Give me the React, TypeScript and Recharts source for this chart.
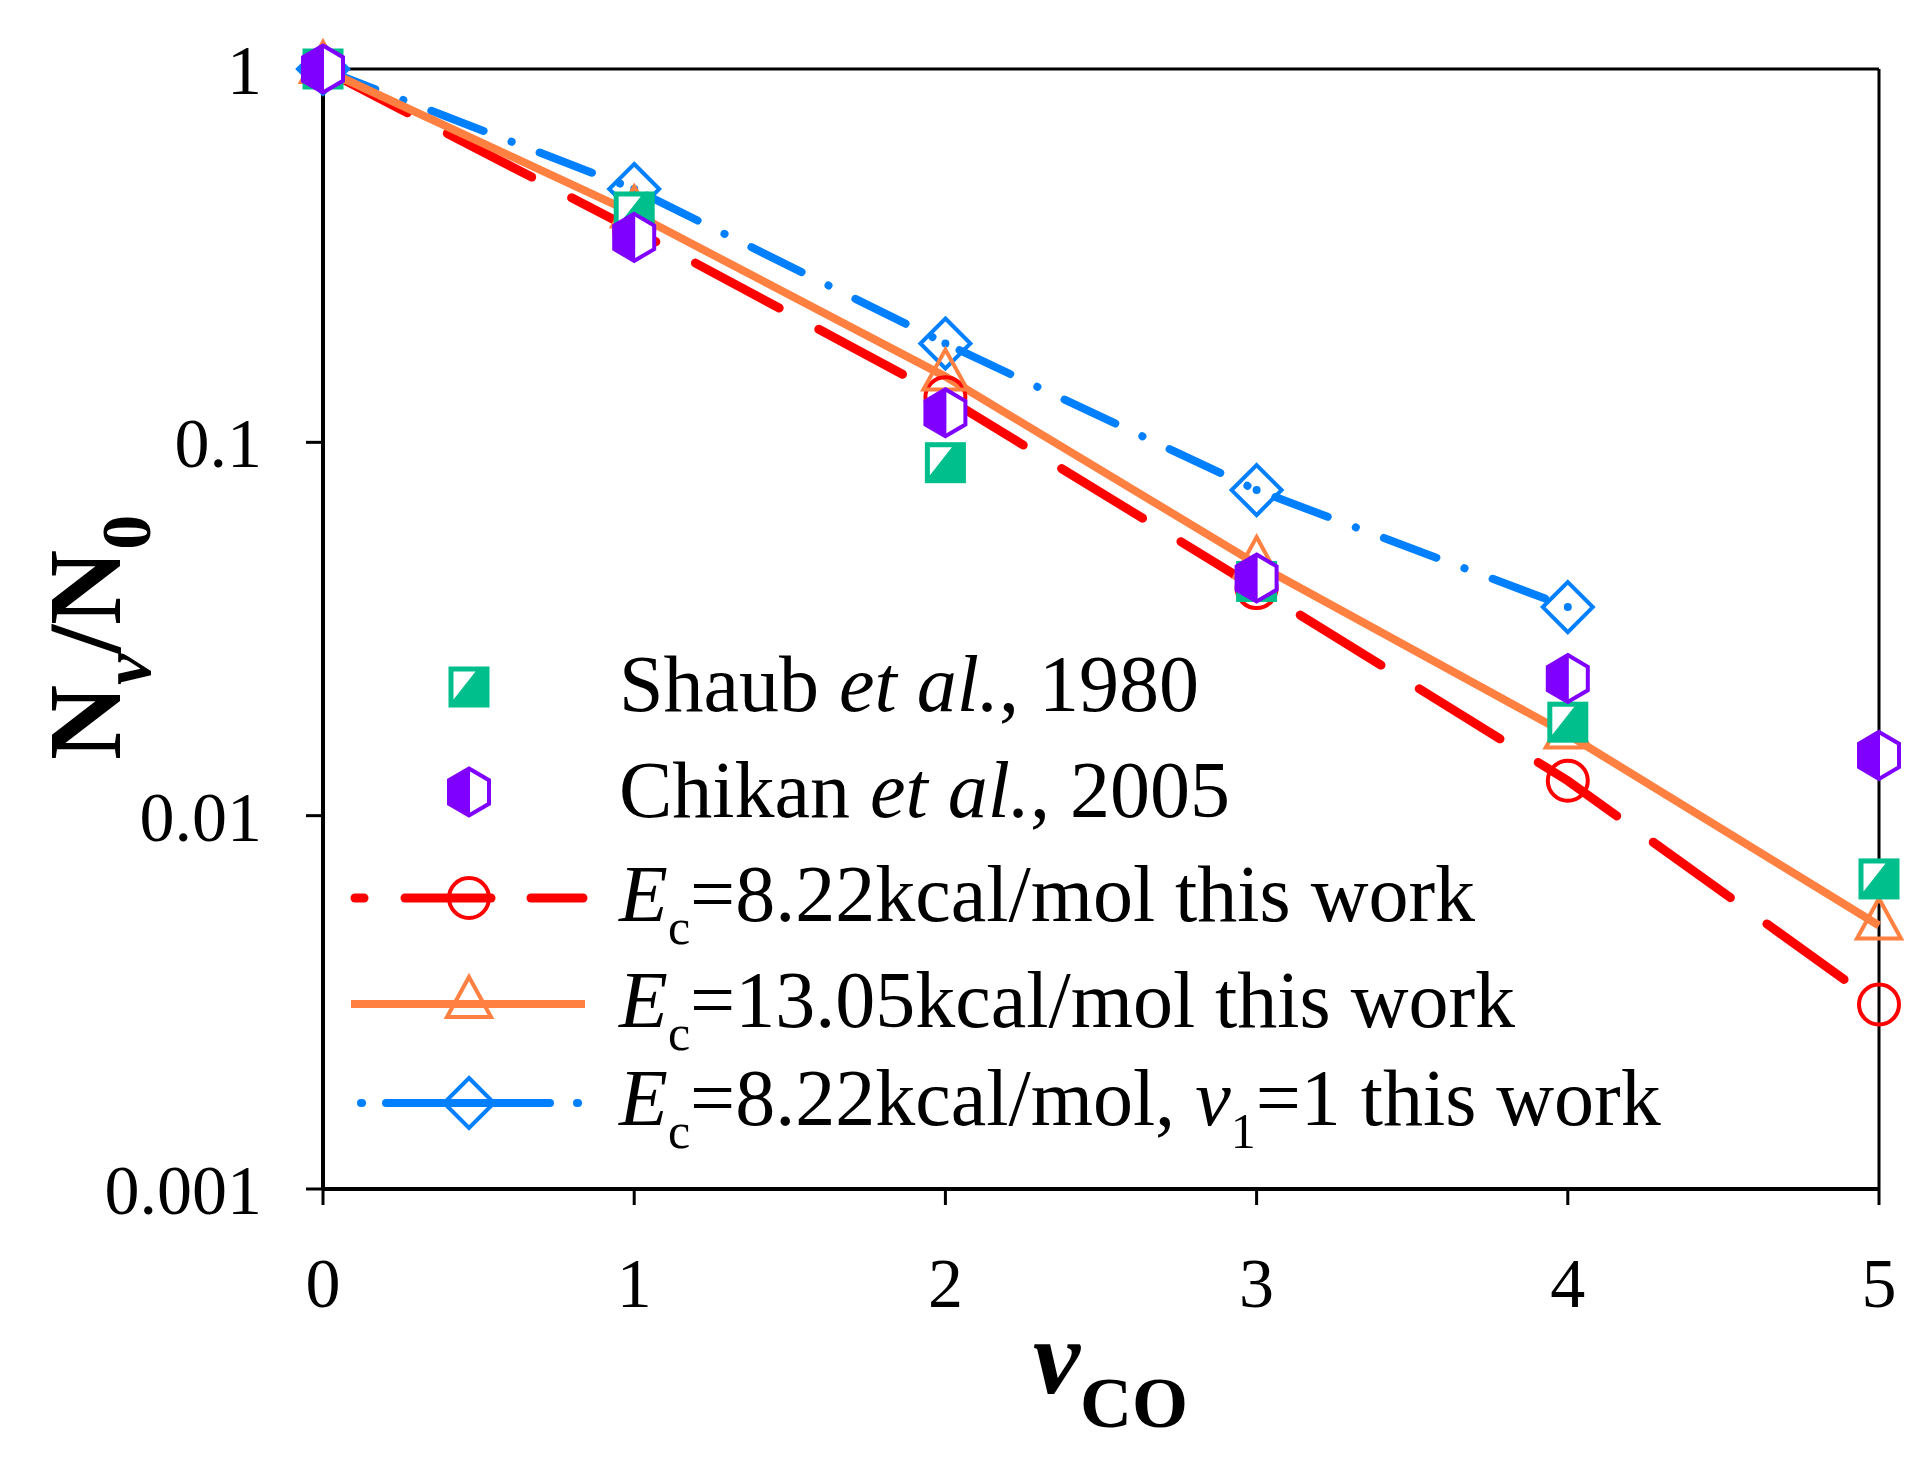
import React from "react";
import {
  ComposedChart,
  Line,
  XAxis,
  YAxis,
  Legend,
  ReferenceLine,
} from "recharts";

// values (N_v / N_0 against v_CO)
const vCO = [0, 1, 2, 3, 4, 5];
const shaub1980 = [1, 0.414, 0.0882, 0.0424, 0.0178, 0.00677];
const chikan2005 = [1, 0.354, 0.12, 0.0433, 0.0233, 0.0145];
const ec822 = [1, 0.37, 0.132, 0.0407, 0.0124, 0.00312];
const ec1305 = [1, 0.41, 0.15, 0.0472, 0.0165, 0.00508];
const vCOv1 = [0, 1, 2, 3, 4];
const ec822v1 = [1, 0.477, 0.184, 0.0745, 0.0362];

const xTicks = [0, 1, 2, 3, 4, 5];
const yTicks = [0.001, 0.01, 0.1, 1];
const yTickLabels = ["0.001", "0.01", "0.1", "1"];

const toPoints = (xs: number[], ys: number[]) =>
  ys.map((y, i) => ({ x: xs[i], y }));

const FONT = '"Liberation Serif", "Times New Roman", Times, serif';
const GREEN = "#00BF8C";
const PURPLE = "#8000FF";
const RED = "#FF0000";
const ORANGE = "#FF8040";
const BLUE = "#0080FF";

const ShaubMark = ({ cx, cy }: any) => {
  const s = 41;
  const x = cx - s / 2;
  const y = cy - s / 2;
  return (
    <g>
      <rect x={x} y={y} width={s} height={s} fill={GREEN} />
      <polygon
        points={`${x + 5},${y + 5} ${x + 27},${y + 5} ${x + 5},${y + 33}`}
        fill="#fff"
      />
    </g>
  );
};

const ChikanMark = ({ cx, cy }: any) => {
  const w = 20;
  const h = 23.5;
  const full = `${cx},${cy - h} ${cx + w},${cy - h / 2} ${cx + w},${cy + h / 2} ${cx},${cy + h} ${cx - w},${cy + h / 2} ${cx - w},${cy - h / 2}`;
  const half = `${cx + 1},${cy - h} ${cx + 1},${cy + h} ${cx - w},${cy + h / 2} ${cx - w},${cy - h / 2}`;
  return (
    <g>
      <polygon points={full} fill="#fff" stroke={PURPLE} strokeWidth={4} />
      <polygon points={half} fill={PURPLE} />
    </g>
  );
};

const CircleMark = ({ cx, cy }: any) => (
  <circle cx={cx} cy={cy} r={20} fill="none" stroke={RED} strokeWidth={4} />
);

const TriangleMark = ({ cx, cy }: any) => (
  <polygon
    points={`${cx},${cy - 27} ${cx + 22},${cy + 13} ${cx - 22},${cy + 13}`}
    fill="none"
    stroke={ORANGE}
    strokeWidth={4}
  />
);

const DiamondMark = ({ cx, cy }: any) => (
  <g>
    <polygon
      points={`${cx},${cy - 25} ${cx + 25},${cy} ${cx},${cy + 25} ${cx - 25},${cy}`}
      fill="none"
      stroke={BLUE}
      strokeWidth={4}
    />
    <circle cx={cx} cy={cy} r={4} fill={BLUE} />
  </g>
);

const dotOf = (Mark: any) => (props: any) =>
  props.cx == null ? null : (
    <Mark key={`${props.index}`} cx={props.cx} cy={props.cy} />
  );

const renderYLabel = () => (
  <text
    transform="translate(120, 760) rotate(-90)"
    fontFamily={FONT}
    fontSize={104}
    fontWeight="bold"
    fill="#000"
  >
    <tspan>N</tspan>
    <tspan fontStyle="italic" fontSize={70} dy={30}>
      v
    </tspan>
    <tspan dy={-30}>/N</tspan>
    <tspan fontSize={70} dy={30}>
      0
    </tspan>
  </text>
);

const renderXLabel = () => (
  <text
    x={1033}
    y={1393}
    fontFamily={FONT}
    fontSize={106}
    fontWeight="bold"
    fill="#000"
  >
    <tspan fontStyle="italic">v</tspan>
    <tspan fontSize={72} dy={34}>
      CO
    </tspan>
  </text>
);

const SUB = 23;

const renderLegend = () => {
  const mx = 469;
  const tx = 619;
  return (
    <svg width={1919} height={1465} style={{ fontFamily: FONT }}>
      <ShaubMark cx={mx} cy={687} />
      <text x={tx} y={711} fontSize={80} fill="#000">
        <tspan>Shaub </tspan>
        <tspan fontStyle="italic">et al.</tspan>
        <tspan>, 1980</tspan>
      </text>

      <ChikanMark cx={mx} cy={792} />
      <text x={tx} y={817} fontSize={80} fill="#000">
        <tspan>Chikan </tspan>
        <tspan fontStyle="italic">et al.</tspan>
        <tspan>, 2005</tspan>
      </text>

      <g stroke={RED} strokeWidth={9} strokeLinecap="round">
        <line x1={355} y1={898} x2={364} y2={898} />
        <line x1={405} y1={898} x2={491} y2={898} />
        <line x1={531} y1={898} x2={583} y2={898} />
      </g>
      <CircleMark cx={mx} cy={898} />
      <text x={tx} y={921} fontSize={80} fill="#000">
        <tspan fontStyle="italic">E</tspan>
        <tspan fontSize={50} dy={SUB}>c</tspan>
        <tspan dy={-SUB}>=8.22kcal/mol this work</tspan>
      </text>

      <line x1={351} y1={1004} x2={585} y2={1004} stroke={ORANGE} strokeWidth={8} />
      <TriangleMark cx={mx} cy={1004} />
      <text x={tx} y={1027} fontSize={80} fill="#000">
        <tspan fontStyle="italic">E</tspan>
        <tspan fontSize={50} dy={SUB}>c</tspan>
        <tspan dy={-SUB}>=13.05kcal/mol this work</tspan>
      </text>

      <g stroke={BLUE} strokeWidth={8} strokeLinecap="round">
        <line x1={361} y1={1103} x2={362} y2={1103} />
        <line x1={386} y1={1103} x2={550} y2={1103} />
        <line x1={577} y1={1103} x2={578} y2={1103} />
      </g>
      <DiamondMark cx={mx} cy={1103} />
      <text x={tx} y={1125} fontSize={80} fill="#000">
        <tspan fontStyle="italic">E</tspan>
        <tspan fontSize={50} dy={SUB}>c</tspan>
        <tspan dy={-SUB}>=8.22kcal/mol, </tspan>
        <tspan fontStyle="italic">v</tspan>
        <tspan fontSize={50} dy={SUB}>1</tspan>
        <tspan dy={-SUB}>=1 this work</tspan>
      </text>
    </svg>
  );
};

export default function App() {
  return (
    <div style={{ position: "absolute", left: 0, top: 0, background: "#fff" }}>
      <ComposedChart
        width={1919}
        height={1465}
        margin={{ top: 69, right: 40, bottom: 0, left: 0 }}
      >
        <XAxis
          type="number"
          dataKey="x"
          domain={[0, 5]}
          ticks={xTicks}
          interval={0}
          height={276}
          axisLine={{ stroke: "#000", strokeWidth: 4 }}
          tickLine={{ stroke: "#000", strokeWidth: 3 }}
          tickSize={16}
          tickMargin={52}
          tick={{ fill: "#000", fontSize: 70, fontFamily: FONT }}
          label={renderXLabel}
        />
        <YAxis
          type="number"
          dataKey="y"
          scale="log"
          domain={[0.001, 1]}
          ticks={yTicks}
          interval={0}
          width={323}
          tickFormatter={(v: number) => yTickLabels[yTicks.indexOf(v)] ?? String(v)}
          axisLine={{ stroke: "#000", strokeWidth: 4 }}
          tickLine={{ stroke: "#000", strokeWidth: 3 }}
          tickSize={17}
          tickMargin={44}
          tick={{ fill: "#000", fontSize: 70, fontFamily: FONT }}
          label={renderYLabel}
        />
        <ReferenceLine y={1} stroke="#000" strokeWidth={3} />
        <ReferenceLine x={5} stroke="#000" strokeWidth={3} />

        <Line
          data={toPoints(vCOv1, ec822v1)}
          dataKey="y"
          type="linear"
          stroke={BLUE}
          strokeWidth={8}
          strokeDasharray="56 30 0.1 30"
          strokeLinecap="round"
          dot={dotOf(DiamondMark)}
          activeDot={false}
          isAnimationActive={false}
        />
        <Line
          data={toPoints(vCO, ec822)}
          dataKey="y"
          type="linear"
          stroke={RED}
          strokeWidth={9}
          strokeDasharray="95 45"
          strokeLinecap="round"
          dot={dotOf(CircleMark)}
          activeDot={false}
          isAnimationActive={false}
        />
        <Line
          data={toPoints(vCO, ec1305)}
          dataKey="y"
          type="linear"
          stroke={ORANGE}
          strokeWidth={8}
          dot={dotOf(TriangleMark)}
          activeDot={false}
          isAnimationActive={false}
        />
        {/* experimental points: markers only, no connecting line */}
        <Line
          data={toPoints(vCO, shaub1980)}
          dataKey="y"
          stroke="none"
          dot={dotOf(ShaubMark)}
          activeDot={false}
          isAnimationActive={false}
        />
        <Line
          data={toPoints(vCO, chikan2005)}
          dataKey="y"
          stroke="none"
          dot={dotOf(ChikanMark)}
          activeDot={false}
          isAnimationActive={false}
        />

        <Legend
          content={renderLegend}
          layout="vertical"
          align="center"
          verticalAlign="middle"
          wrapperStyle={{
            position: "absolute",
            left: 0,
            top: 0,
            width: 1919,
            height: 1465,
            pointerEvents: "none",
          }}
        />
      </ComposedChart>
    </div>
  );
}
